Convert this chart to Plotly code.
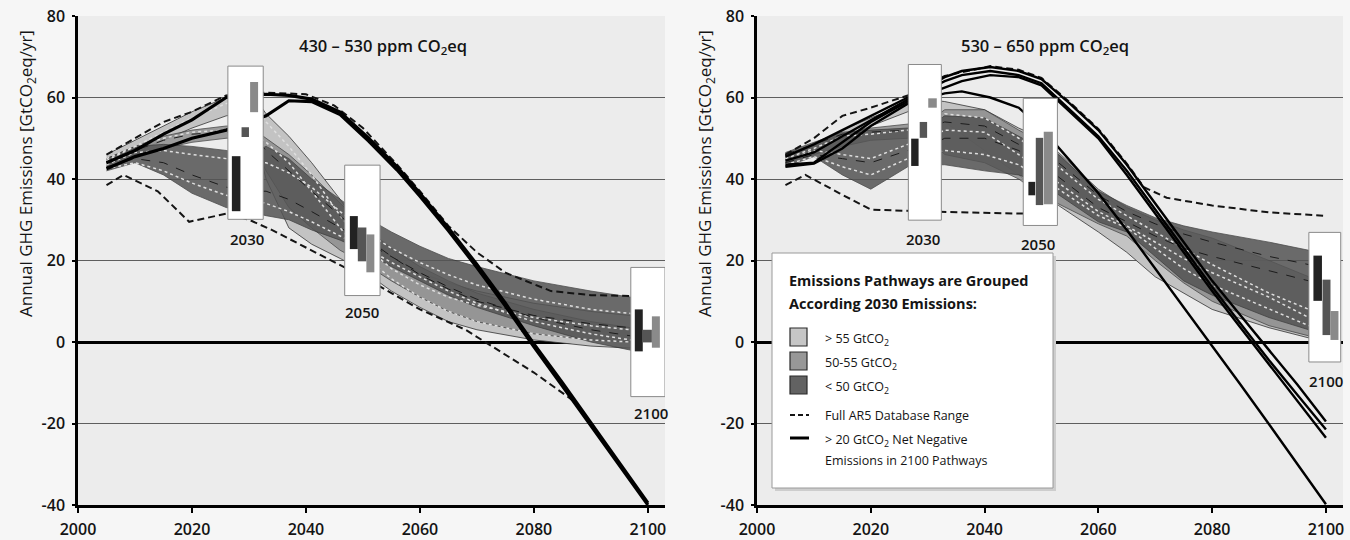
import plotly.graph_objects as go

FONT = "Open Sans"
W, H = 1350, 540

# Axis geometry (pixels, figure has zero margins)
PLOT_TOP, PLOT_BOTTOM = 16, 505
LEFT_PX = (78, 665)
RIGHT_PX = (757, 1343)

X_RANGE = [2000, 2103]
Y_RANGE = [-40, 80]
X_TICKS = [2000, 2020, 2040, 2060, 2080, 2100]
Y_TICKS = [-40, -20, 0, 20, 40, 60, 80]
Y_TICK_TEXT = ["-40", "-20", "0", "20", "40", "60", "80"]

PANEL_TITLES = ["430 – 530 ppm CO<sub>2</sub>eq", "530 – 650 ppm CO<sub>2</sub>eq"]
Y_TITLE = "Annual GHG Emissions [GtCO<sub>2</sub>eq/yr]"

# ------------------------------------------------------------------
# 430–530 ppm CO2eq panel
# ------------------------------------------------------------------
L_YRS = [2005, 2010, 2015, 2020, 2026, 2030, 2033, 2037, 2041, 2046, 2050, 2055, 2060, 2065, 2070, 2080, 2090, 2097]
L_HIGH_UP = [46, 49.5, 53, 56.5, 60, 62, 56, 50.5, 44, 35, 27, 21, 17, 14.5, 12.5, 9.5, 7.5, 6.5]
L_HIGH_LO = [44, 46.5, 49.5, 52.5, 55.5, 56.5, 40, 28, 24, 20.5, 17.5, 12.5, 8.5, 5, 3, 0.5, -1, -1.5]
L_MID_UP = [45, 48, 50.5, 52, 53, 53, 50, 46, 41, 34, 28.5, 23, 18.5, 15, 12, 8, 5, 3.5]
L_MID_LO = [43.5, 46, 47.5, 49, 50, 50, 42, 33, 28, 22.5, 19.5, 15, 11, 7.5, 5, 2, 0.5, 0]
L_LOW_UP = [45, 48, 48.5, 48, 47, 46, 48, 45, 40, 35, 31, 27, 23.5, 20.5, 18.5, 15, 12.5, 11]
L_LOW_LO = [42, 44, 41, 36.5, 33, 32, 31, 30, 27.5, 25, 22.5, 18.5, 15, 11.5, 8.5, 4, 0, -2]

# individual scenario pathways inside the bands
L_PATHS_DOTTED = [
    [44.5, 48, 51.5, 55, 58.5, 60, 54, 48, 41, 31, 24, 18, 14, 11, 9, 6, 4, 3],
    [43.5, 46.5, 47, 46, 45, 44, 44, 41.5, 38, 32, 27.5, 23, 19.5, 16.5, 14, 10.5, 8, 7],
    [42.5, 44, 42, 39, 36, 35, 34, 32, 29.5, 26, 23.5, 19.5, 16, 12.5, 9.5, 5, 2, 0.5],
    [45, 48, 50, 51.5, 52, 52, 49, 44, 37, 28, 21.5, 15.5, 11, 7.5, 5, 2, 0.5, 0],
]
L_PATHS_DARK = [
    [43, 45, 44, 41, 38, 37, 37, 35, 32, 28, 25, 21, 17, 13.5, 10.5, 6, 3, 1.5],
    [44, 47, 49.5, 51, 51.5, 51.5, 47, 42, 37, 31, 26, 21, 16.5, 13, 10, 6.5, 4.5, 3.5],
]

# pathways with > 20 GtCO2 net negative emissions in 2100
L_NN_YRS = [2005, 2010, 2015, 2020, 2026, 2033, 2037, 2041, 2046, 2051, 2056, 2060, 2065, 2070, 2075, 2080, 2085, 2090, 2095, 2100]
L_NN = [
    [44, 47, 51, 54.5, 60, 60.8, 60.5, 59.6, 56.4, 50, 43, 36.5, 28, 19, 9.5, -0.5, -10, -19.8, -29.5, -39.5],
    [42.5, 45.5, 47.5, 50, 52, 55.5, 59.2, 59, 55.8, 49.3, 42.2, 35.8, 27.3, 18.3, 8.8, -1.2, -10.8, -20.5, -30.3, -40],
]

# full AR5 database range
L_DB_HI_YRS = [2005, 2010, 2015, 2020, 2026, 2033, 2040, 2045, 2050, 2056, 2060, 2065, 2068, 2070, 2075, 2083, 2090, 2097]
L_DB_HI = [46, 50, 54, 56.5, 60.5, 61.2, 60.8, 58, 52.5, 43.5, 37, 28.5, 24.5, 22, 17, 12.5, 11.5, 11.3]
L_DB_LO_YRS = [2005, 2008, 2014, 2019.5, 2026, 2030, 2034, 2046, 2050, 2055, 2060, 2068, 2075, 2080, 2087]
L_DB_LO = [38.5, 41, 37, 29.5, 31.5, 30, 27.5, 19, 16, 12, 8, 3, -3, -7.5, -14.5]

# 2030 / 2050 / 2100 range boxes: (year, box x0, x1, y0, y1, label x, label y)
L_BOXES = [
    (2030, 2026.3, 2032.5, 30.1, 67.7, 2029.6, 25.2),
    (2050, 2046.8, 2053.0, 11.4, 43.4, 2049.8, 7.3),
    (2100, 2097.0, 2103.0, -13.4, 18.3, 2100.5, -17.5),
]
# bars per box: (x0, x1, y0, y1) for <50, 50-55, >55 groups
L_BOX_BARS = [
    [(2027.0, 2028.5, 32.1, 45.6), (2028.7, 2030.0, 50.3, 52.7), (2030.2, 2031.6, 56.4, 63.8)],
    [(2047.7, 2049.1, 22.8, 30.9), (2049.1, 2050.6, 19.8, 28.1), (2050.6, 2052.0, 17.1, 26.4)],
    [(2097.7, 2099.1, -2.3, 8.0), (2099.1, 2100.7, -0.1, 3.0), (2100.7, 2102.1, -1.4, 6.3)],
]

# ------------------------------------------------------------------
# 530–650 ppm CO2eq panel
# ------------------------------------------------------------------
R_YRS = [2005, 2010, 2015, 2020, 2026.5, 2030, 2033, 2040, 2046, 2050, 2053, 2060, 2065, 2070, 2075, 2080, 2090, 2097]
R_HIGH_UP = [46, 48.5, 52, 55, 58.5, 59.5, 59, 57, 52.5, 50, 46, 37, 32, 27, 22, 17, 10, 7.5]
R_HIGH_LO = [44.5, 47, 50, 53, 56.5, 57.5, 54, 47, 41, 36, 33.5, 27, 22, 16, 12, 8, 3.5, 1]
R_MID_UP = [46, 48.5, 51, 52.5, 53.5, 54, 57, 57, 52, 49, 46.5, 37.5, 33, 30, 27.5, 25.5, 20, 16]
R_MID_LO = [44, 46, 48, 49.5, 50, 50, 46, 44, 40, 36, 34, 29, 26, 20, 14.5, 10, 4, 1.5]
R_LOW_UP = [46.5, 49, 51.5, 52, 52.5, 53, 55.5, 55, 50.5, 47.5, 46, 37, 33.5, 30.5, 28.5, 27, 24.5, 22.5]
R_LOW_LO = [43, 45.5, 41, 37.5, 43, 43.5, 43.5, 42, 41, 39, 36, 29.5, 27, 21, 15, 11.5, 6, 3]

R_PATHS_DOTTED = [
    [45, 47.5, 50.5, 51, 52, 53, 56, 55, 50, 46, 43, 35, 31, 27, 23, 19, 12, 8],
    [43.5, 45.5, 43, 41, 45, 46, 47, 46, 43.5, 40, 37.5, 31, 28, 23, 18, 14, 8, 4],
    [44.5, 47, 46, 45, 48.5, 50, 52, 51.5, 46, 42, 39, 32, 28.5, 24.5, 20.5, 17, 11, 6],
]
R_PATHS_DARK = [
    [44, 46, 45, 44, 47, 48, 50, 50, 47, 43, 40.5, 33, 29.5, 26, 23, 21, 17.5, 15],
    [46, 48.5, 51, 51.5, 52, 52.5, 54, 53, 48.5, 45, 44, 36, 32, 29, 26.5, 24.5, 21, 19],
]

R_NN_YRS = [2005, 2010, 2015, 2020, 2026.5, 2033, 2036, 2041, 2046, 2050, 2055, 2060, 2065, 2070, 2075, 2080, 2085, 2090, 2095, 2100]
R_NN = [
    [45.5, 48.5, 52, 55.5, 60, 65, 66.5, 67.5, 66.5, 64.5, 58.5, 52, 43.5, 34, 24.5, 15, 6.5, -2, -10.5, -19.5],
    [44.5, 46.5, 50.5, 54.5, 59.5, 64, 65.5, 66.5, 65.5, 63.5, 57, 50.5, 42, 32.5, 23, 13.5, 4.5, -4.5, -13, -21.5],
    [43.5, 44, 49, 54, 59, 62.5, 64, 65.5, 65, 63, 56.5, 50, 41, 31.5, 22, 12.5, 3.5, -5.5, -14.5, -23.5],
    [43, 43.8, 47.5, 53, 58.5, 61, 61.5, 60, 57.5, 52.5, 44.5, 36.5, 27.5, 18, 8.8, -0.8, -10.5, -20.2, -30, -39.8],
]

R_DB_HI_YRS = [2005, 2010, 2015, 2020, 2026.5, 2033, 2041, 2046, 2050, 2055, 2060, 2065, 2068, 2072, 2080, 2085.5, 2090, 2099.5]
R_DB_HI = [46, 50, 55.5, 57.5, 60.5, 65.3, 67.7, 66.8, 64.8, 58.8, 52.3, 43.8, 38, 35.4, 33.5, 32.6, 31.8, 31]
R_DB_LO_YRS = [2005, 2008.5, 2014.5, 2020, 2030, 2040, 2047]
R_DB_LO = [38.5, 41, 36.5, 32.5, 32, 31.8, 31.5]

R_BOXES = [
    (2030, 2026.6, 2032.4, 29.9, 68.1, 2029.2, 25.2),
    (2050, 2046.8, 2052.8, 28.6, 59.8, 2049.4, 24.0),
    (2100, 2097.0, 2102.6, -4.9, 26.9, 2100.0, -9.6),
]
R_BOX_BARS = [
    [(2027.1, 2028.4, 43.2, 49.9), (2028.6, 2029.9, 50.1, 54.0), (2030.1, 2031.6, 57.5, 59.8)],
    [(2047.7, 2048.9, 36.0, 39.3), (2049.0, 2050.3, 33.6, 50.1), (2050.4, 2052.0, 33.8, 51.6)],
    [(2097.8, 2099.3, 10.1, 21.2), (2099.4, 2100.8, 1.7, 15.3), (2100.8, 2102.2, 0.5, 7.6)],
]

# legend entries
LEGEND_HEAD = ["Emissions Pathways are Grouped", "According 2030 Emissions:"]
LEGEND_GROUPS = ["> 55 GtCO<sub>2</sub>", "50-55 GtCO<sub>2</sub>", "< 50 GtCO<sub>2</sub>"]
LEGEND_DB = "Full AR5 Database Range"
LEGEND_NN = ["> 20 GtCO<sub>2</sub> Net Negative", "Emissions in 2100 Pathways"]

# styles
BAND_FILL = {"high": "#c3c3c3", "mid": "#8d8d8d", "low": "#545454"}
BAR_FILL = ["#222222", "#555555", "#8a8a8a"]
LEGEND_FILL = ["#c6c6c6", "#979797", "#626262"]
INK = "#141414"
GRID = "#5e5e5e"
DASH = "7px,4px"

fig = go.Figure()


def add_band(xs, up, lo, color, opacity, xa, ya):
    fig.add_trace(go.Scatter(
        x=list(xs) + list(xs)[::-1], y=list(up) + list(lo)[::-1],
        fill="toself", fillcolor=color, opacity=opacity, mode="lines",
        line=dict(color="#333333", width=0.8), xaxis=xa, yaxis=ya,
        hoverinfo="skip", showlegend=False))


def add_line(xs, ys, color, width, dash, xa, ya):
    fig.add_trace(go.Scatter(
        x=xs, y=ys, mode="lines", line=dict(color=color, width=width, dash=dash),
        xaxis=xa, yaxis=ya, hoverinfo="skip", showlegend=False))


panels = [
    dict(xa="x", ya="y", yrs=L_YRS,
         bands=[(L_HIGH_UP, L_HIGH_LO, "high", 1.0), (L_MID_UP, L_MID_LO, "mid", 0.85), (L_LOW_UP, L_LOW_LO, "low", 0.85)],
         dotted=L_PATHS_DOTTED, dark=L_PATHS_DARK, nn_yrs=L_NN_YRS, nn=L_NN, nn_w=3.2,
         db=[(L_DB_HI_YRS, L_DB_HI), (L_DB_LO_YRS, L_DB_LO)], boxes=L_BOXES, bars=L_BOX_BARS),
    dict(xa="x2", ya="y2", yrs=R_YRS,
         bands=[(R_HIGH_UP, R_HIGH_LO, "high", 1.0), (R_MID_UP, R_MID_LO, "mid", 0.85), (R_LOW_UP, R_LOW_LO, "low", 0.85)],
         dotted=R_PATHS_DOTTED, dark=R_PATHS_DARK, nn_yrs=R_NN_YRS, nn=R_NN, nn_w=2.4,
         db=[(R_DB_HI_YRS, R_DB_HI), (R_DB_LO_YRS, R_DB_LO)], boxes=R_BOXES, bars=R_BOX_BARS),
]

shapes = []
annotations = []


def note(x, y, text, xref, yref, size, weight=400, xanchor="center", angle=0):
    annotations.append(dict(x=x, y=y, xref=xref, yref=yref, text=text, showarrow=False,
                            xanchor=xanchor, yanchor="middle", textangle=angle,
                            font=dict(family=FONT, size=size, color=INK, weight=weight)))


for p in panels:
    xa, ya = p["xa"], p["ya"]
    for up, lo, key, op in p["bands"]:
        add_band(p["yrs"], up, lo, BAND_FILL[key], op, xa, ya)
    for ys in p["dotted"]:
        add_line(p["yrs"], ys, "#dedede", 1.5, "dot", xa, ya)
    for ys in p["dark"]:
        add_line(p["yrs"], ys, "#1c1c1c", 1.0, "dash", xa, ya)
    for xs, ys in p["db"]:
        add_line(xs, ys, INK, 2.0, DASH, xa, ya)
    for ys in p["nn"]:
        add_line(p["nn_yrs"], ys, "#000000", p["nn_w"], "solid", xa, ya)

    for (yr, bx0, bx1, by0, by1, lx, ly), bars in zip(p["boxes"], p["bars"]):
        shapes.append(dict(type="rect", xref=xa, yref=ya, x0=bx0, x1=bx1, y0=by0, y1=by1,
                           fillcolor="#ffffff", line=dict(color="#8a8a8a", width=1), layer="above"))
        for (x0, x1, y0, y1), col in zip(bars, BAR_FILL):
            shapes.append(dict(type="rect", xref=xa, yref=ya, x0=x0, x1=x1, y0=y0, y1=y1,
                               fillcolor=col, line=dict(width=0), layer="above"))
        note(lx, ly, str(yr), xa, ya, 15, 600)

# panel titles
note(2053.5, 72.6, PANEL_TITLES[0], "x", "y", 16.5, 600)
note(2050.6, 72.6, PANEL_TITLES[1], "x2", "y2", 16.5, 600)


# pixel positions converted to paper fractions (zero margins)
def px_x(v):
    return v / W


def px_y(v):
    return 1 - v / H


# y-axis titles
for px in (27, 706):
    note(px_x(px), px_y(174), Y_TITLE, "paper", "paper", 17, 400, angle=-90)

# legend panel
shapes.append(dict(type="rect", xref="paper", yref="paper", x0=px_x(775), x1=px_x(1056), y0=px_y(491), y1=px_y(256),
                   fillcolor="#cdcdcd", line=dict(width=0), layer="above"))
shapes.append(dict(type="rect", xref="paper", yref="paper", x0=px_x(772), x1=px_x(1053), y0=px_y(488), y1=px_y(253),
                   fillcolor="#ffffff", line=dict(color="#9a9a9a", width=1), layer="above"))

for txt, py in zip(LEGEND_HEAD, (280, 303)):
    note(px_x(787), px_y(py), txt, "paper", "paper", 14.5, 700, xanchor="left")

for txt, col, py in zip(LEGEND_GROUPS, LEGEND_FILL, (337, 361, 385)):
    shapes.append(dict(type="rect", xref="paper", yref="paper", x0=px_x(790), x1=px_x(807),
                       y0=px_y(py + 9), y1=px_y(py - 9), fillcolor=col,
                       line=dict(color="#2a2a2a", width=1.2), layer="above"))
    note(px_x(823), px_y(py + 2), txt, "paper", "paper", 12.5, xanchor="left")

shapes.append(dict(type="line", xref="paper", yref="paper", x0=px_x(790), x1=px_x(809), y0=px_y(415), y1=px_y(415),
                   line=dict(color=INK, width=2, dash="5px,3px"), layer="above"))
note(px_x(823), px_y(415), LEGEND_DB, "paper", "paper", 12.5, xanchor="left")
shapes.append(dict(type="line", xref="paper", yref="paper", x0=px_x(790), x1=px_x(809), y0=px_y(438), y1=px_y(438),
                   line=dict(color="#000000", width=3), layer="above"))
for txt, py in zip(LEGEND_NN, (440, 460)):
    note(px_x(823), px_y(py), txt, "paper", "paper", 12.5, xanchor="left")

xaxis_common = dict(range=X_RANGE, tickvals=X_TICKS, showgrid=False, zeroline=False,
                    showline=True, linecolor="#000000", linewidth=2.5,
                    ticks="outside", ticklen=5, tickwidth=2, tickcolor="#000000",
                    ticklabelstandoff=3, tickfont=dict(family=FONT, size=16, color=INK, weight=600),
                    automargin=False, fixedrange=True)
yaxis_common = dict(range=Y_RANGE, tickvals=Y_TICKS, ticktext=Y_TICK_TEXT,
                    showgrid=True, gridcolor=GRID, gridwidth=1.2,
                    zeroline=True, zerolinecolor="#000000", zerolinewidth=2.5,
                    showline=True, linecolor="#000000", linewidth=2.5,
                    ticks="outside", ticklen=3, tickwidth=1.5, tickcolor="#000000",
                    ticklabelstandoff=4, tickfont=dict(family=FONT, size=16, color=INK, weight=600),
                    automargin=False, fixedrange=True)

ydom = [1 - PLOT_BOTTOM / H, 1 - PLOT_TOP / H]
fig.update_layout(
    width=W, height=H,
    margin=dict(l=0, r=0, t=0, b=0, pad=0, autoexpand=False),
    paper_bgcolor="#f6f6f6", plot_bgcolor="#ececec",
    showlegend=False,
    xaxis=dict(domain=[LEFT_PX[0] / W, LEFT_PX[1] / W], anchor="y", **xaxis_common),
    yaxis=dict(domain=ydom, anchor="x", **yaxis_common),
    xaxis2=dict(domain=[RIGHT_PX[0] / W, RIGHT_PX[1] / W], anchor="y2", **xaxis_common),
    yaxis2=dict(domain=ydom, anchor="x2", **yaxis_common),
    shapes=shapes,
    annotations=annotations,
)

fig.write_html("out.html")
